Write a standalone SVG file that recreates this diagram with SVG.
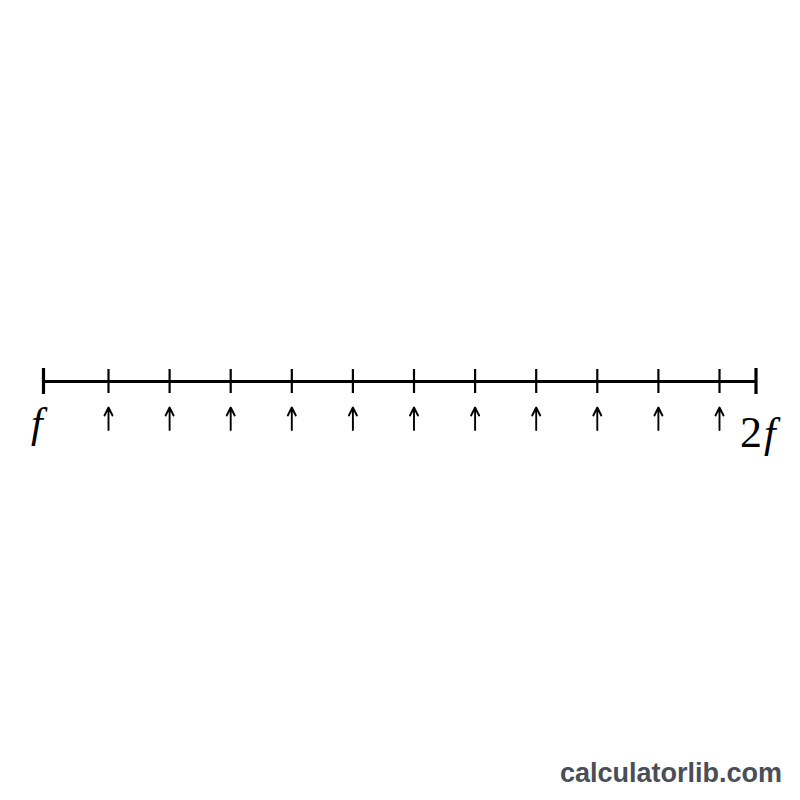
<svg xmlns="http://www.w3.org/2000/svg" width="800" height="800" viewBox="0 0 800 800">
<style>
.axis{stroke:#000;stroke-width:3;fill:none}
.end{stroke:#000;stroke-width:3.2;fill:none}
.tick{stroke:#000;stroke-width:2.2;fill:none}
.arr{stroke:#000;stroke-width:1.9;fill:none;stroke-linecap:round;stroke-linejoin:round}
.lbl{font-family:"Liberation Serif",serif;font-style:italic;font-size:42px;fill:#000}
.num{font-family:"Liberation Serif",serif;font-style:normal;font-size:44px;fill:#000}
.wm{font-family:"Liberation Sans",Arial,sans-serif;font-weight:bold;font-size:27px;fill:#4a4e58}
</style>
<defs>
<g id="up"><path class="arr" d="M0,430 V408 M-4,415.5 L0,407.5 L4,415.5"/></g>
<path id="tk" class="tick" d="M0,369 V393"/>
</defs>
<rect width="800" height="800" fill="#fff"/>
<g id="axis">
<path class="axis" d="M43,381.5 H756"/>
<path class="end" d="M43.5,368 V394 M756,368 V394"/>
</g>
<g id="ticks">
<use href="#tk" x="108.5"/><use href="#tk" x="169.6"/><use href="#tk" x="230.7"/><use href="#tk" x="291.8"/><use href="#tk" x="352.9"/><use href="#tk" x="414"/><use href="#tk" x="475.1"/><use href="#tk" x="536.2"/><use href="#tk" x="597.3"/><use href="#tk" x="658.4"/><use href="#tk" x="719.5"/>
</g>
<g id="arrows">
<use href="#up" x="108.5"/><use href="#up" x="169.6"/><use href="#up" x="230.7"/><use href="#up" x="291.8"/><use href="#up" x="352.9"/><use href="#up" x="414"/><use href="#up" x="475.1"/><use href="#up" x="536.2"/><use href="#up" x="597.3"/><use href="#up" x="658.4"/><use href="#up" x="719.5"/>
</g>
<g id="label-f"><text class="lbl" x="31" y="437">f</text></g>
<g id="label-2f"><text class="num" x="740" y="447">2<tspan class="lbl" dx="2">f</tspan></text></g>
<g id="watermark"><text class="wm" x="782" y="782" text-anchor="end">calculatorlib.com</text></g>
</svg>
